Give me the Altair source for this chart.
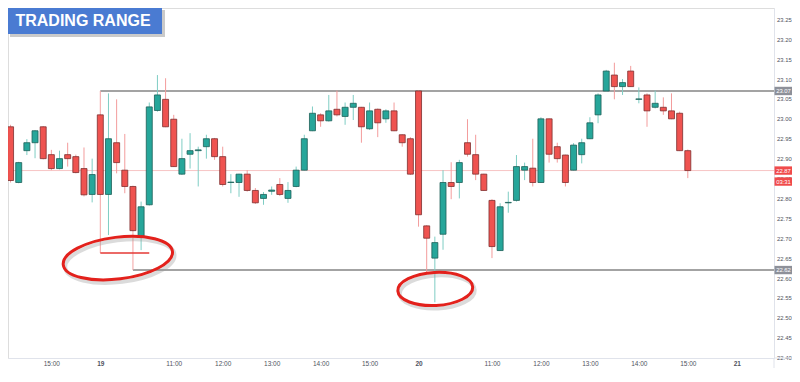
import altair as alt
import pandas as pd

# ---- candle data (10-minute bars; index 0 = day 19 09:30) ----
idx = list(range(-11, 73))
opens = [22.980, 22.840, 22.920, 22.940, 22.980, 22.910, 22.875, 22.910, 22.905, 22.875, 22.810,
         23.010, 22.810, 22.940, 22.871, 22.830, 22.706, 22.784, 23.021, 23.049, 22.999, 22.861,
         22.911, 22.920, 22.930, 22.950, 22.905, 22.840, 22.840, 22.861, 22.820, 22.800, 22.818,
         22.835, 22.800, 22.830, 22.871, 22.970, 23.010, 22.995, 23.024, 23.006, 23.029, 23.029,
         22.975, 23.024, 23.000, 23.020, 22.960, 22.950,
         23.070, 22.731, 22.650, 22.710, 22.840, 22.840, 22.940, 22.910, 22.861, 22.795, 22.669,
         22.789, 22.795, 22.871, 22.876, 22.840, 23.000, 22.930, 22.909, 22.871, 22.910, 22.950,
         23.010, 23.070, 23.110, 23.081, 23.120, 23.049, 23.060, 23.029, 23.029, 23.020, 23.014,
         22.920]
highs = [22.985, 22.892, 22.949, 22.972, 22.982, 22.922, 22.920, 22.940, 22.910, 22.928, 22.900,
         23.012, 23.064, 23.049, 22.962, 22.832, 22.792, 23.041, 23.110, 23.102, 23.010, 22.950,
         22.964, 22.930, 22.960, 22.952, 22.930, 22.861, 22.862, 22.871, 22.826, 22.816, 22.830,
         22.851, 22.841, 22.880, 22.960, 23.031, 23.014, 23.060, 23.071, 23.041, 23.060, 23.030,
         23.041, 23.026, 23.024, 23.041, 22.961, 22.954,
         23.072, 22.733, 22.704, 22.871, 22.891, 22.897, 22.999, 22.960, 22.862, 22.798, 22.788,
         22.817, 22.909, 22.890, 22.950, 23.004, 23.001, 22.940, 22.910, 22.939, 22.950, 23.004,
         23.064, 23.123, 23.141, 23.100, 23.133, 23.079, 23.064, 23.071, 23.054, 23.064, 23.018,
         22.923]
lows = [22.840, 22.838, 22.909, 22.901, 22.898, 22.871, 22.873, 22.880, 22.863, 22.805, 22.790,
        22.808, 22.708, 22.863, 22.813, 22.715, 22.670, 22.782, 23.018, 22.979, 22.879, 22.859,
        22.875, 22.830, 22.900, 22.897, 22.830, 22.813, 22.804, 22.817, 22.786, 22.784, 22.809,
        22.806, 22.789, 22.828, 22.870, 22.969, 22.980, 22.993, 23.006, 22.985, 22.997, 22.940,
        22.972, 22.954, 22.990, 22.969, 22.930, 22.859,
        22.729, 22.610, 22.539, 22.671, 22.798, 22.800, 22.905, 22.846, 22.819, 22.650, 22.668,
        22.764, 22.792, 22.846, 22.830, 22.839, 22.890, 22.890, 22.830, 22.870, 22.888, 22.949,
        22.989, 23.068, 23.049, 23.060, 23.080, 23.039, 22.980, 23.026, 23.010, 22.999, 22.919,
        22.851]
closes = [22.845, 22.890, 22.940, 22.970, 22.900, 22.875, 22.900, 22.900, 22.865, 22.809, 22.860,
          22.810, 22.950, 22.890, 22.830, 22.719, 22.779, 23.030, 23.060, 22.980, 22.880, 22.900,
          22.920, 22.922, 22.950, 22.905, 22.835, 22.841, 22.861, 22.820, 22.789, 22.810, 22.821,
          22.810, 22.820, 22.871, 22.950, 23.014, 22.995, 23.020, 23.010, 23.029, 23.039, 22.980,
          23.020, 22.990, 23.020, 22.970, 22.940, 22.861,
          22.759, 22.700, 22.689, 22.840, 22.830, 22.890, 22.911, 22.861, 22.820, 22.679, 22.779,
          22.790, 22.880, 22.880, 22.840, 23.000, 22.911, 22.900, 22.840, 22.934, 22.940, 22.990,
          23.060, 23.120, 23.081, 23.091, 23.081, 23.050, 23.020, 23.039, 23.020, 23.000, 22.920,
          22.870]

# axis ticks
tick_idx = [-6, 0, 9, 15, 21, 27, 33, 39, 48, 54, 60, 66, 72, 78]
tick_lbl = ["15:00", "19", "11:00", "12:00", "13:00", "14:00", "15:00",
            "20", "11:00", "12:00", "13:00", "14:00", "15:00", "21"]
day_idx = [0, 39, 78]
price_ticks = [22.40, 22.45, 22.50, 22.55, 22.60, 22.65, 22.70, 22.75, 22.80, 22.85,
               22.90, 22.95, 23.00, 23.05, 23.10, 23.15, 23.20, 23.25]

# annotation levels
resistance = [23.07]
support = [22.62]
last_price = [22.87]
last_label = ["22.87"]
countdown = ["03:31"]
marker_low = [22.663]
title_text = ["TRADING RANGE"]
ellipse_a = ([2.15], [22.650])
ellipse_b = ([41.05], [22.5725])

W, H = 766, 350
PR, PB = 18, 10
GREEN, RED = "#26a69a", "#ef5350"

df = pd.DataFrame(dict(i=idx, o=opens, h=highs, l=lows, c=closes))
df["dir"] = ["up" if c >= o else "down" for o, c in zip(df.o, df.c)]

label_expr = "''"
for v, l in reversed(list(zip(tick_idx, tick_lbl))):
    label_expr = f"datum.value == {v} ? '{l}' : ({label_expr})"
bold_test = " || ".join(f"datum.value == {d}" for d in day_idx)

xscale = alt.Scale(domain=[-10.7, 81.95], nice=False, zero=False)
yscale = alt.Scale(domain=[22.399, 23.2785], nice=False, zero=False)
xaxis = alt.Axis(values=tick_idx, labelExpr=label_expr, title=None, grid=False, ticks=False,
                 labelFontSize=6.5, labelColor="#50535e", domainColor="#e0e3eb",
                 labelPadding=2, labelFlush=False, labelOverlap=False,
                 labelFontWeight=alt.condition(bold_test, alt.value("bold"), alt.value("normal")))
yaxis = alt.Axis(orient="right", values=price_ticks, format=".2f", title=None, grid=False,
                 ticks=False, labelFontSize=5.9, labelColor="#50535e", domainColor="#e0e3eb",
                 labelPadding=2.5, labelFlush=False, labelOverlap=False)


def X(f):
    return alt.X(f"{f}:Q", scale=xscale, axis=xaxis)


def Y(f):
    return alt.Y(f"{f}:Q", scale=yscale, axis=yaxis)


dir_dom = ["up", "down"]
base = alt.Chart(df)
wicks = base.mark_rule(strokeWidth=1).encode(
    x=X("i"), y=Y("l"), y2="h",
    color=alt.Color("dir:N", scale=alt.Scale(domain=dir_dom, range=["#7fcdc4", "#f39c9c"]), legend=None))
bodies = base.mark_bar(size=6, strokeWidth=0.8).encode(
    x=X("i"), y=Y("o"), y2="c",
    fill=alt.Fill("dir:N", scale=alt.Scale(domain=dir_dom, range=[GREEN, RED]), legend=None),
    stroke=alt.Stroke("dir:N", scale=alt.Scale(domain=dir_dom, range=["#1d5f58", "#7d2f2f"]), legend=None))

# current price line
lp = pd.DataFrame({"p": last_price, "label": last_label, "cd": countdown})
last_line = alt.Chart(lp).mark_rule(color="#f7c4c4", strokeWidth=1).encode(
    y=Y("p"), x=alt.value(0), x2=alt.value(W))

# resistance / support lines
lv = pd.DataFrame({"p": resistance + support, "i0": [0, 4]})
level_lines = alt.Chart(lv).mark_rule(color="#a3a3a3", strokeWidth=2).encode(
    x=X("i0"), x2=alt.value(W), y=Y("p"))

# thin pink vertical markers and red low marker
pv = pd.DataFrame({"i": [0, 4], "top": [resistance[0], 22.715], "bot": [marker_low[0], support[0]]})
pink_v = alt.Chart(pv).mark_rule(color="#f3a3a3", strokeWidth=1).encode(
    x=X("i"), y=Y("top"), y2="bot")
rm = pd.DataFrame({"i0": [0], "i1": [6], "p": marker_low})
red_h = alt.Chart(rm).mark_rule(color="#e53935", strokeWidth=1.5).encode(
    x=X("i0"), x2="i1", y=Y("p"))

# ellipses
E1 = "M -1 0 A 1 0.38 0 1 0 1 0 A 1 0.38 0 1 0 -1 0 Z"
E2 = "M -1 0 A 1 0.44 0 1 0 1 0 A 1 0.44 0 1 0 -1 0 Z"
ea = pd.DataFrame({"i": ellipse_a[0], "p": ellipse_a[1]})
eb = pd.DataFrame({"i": ellipse_b[0], "p": ellipse_b[1]})


def ellipse(d, shape, size, angle):
    sh = alt.Chart(d).mark_point(shape=shape, size=size, filled=False, color="#9a9a9a",
                                 strokeWidth=4, opacity=0.35, angle=angle, xOffset=2, yOffset=3
                                 ).encode(x=X("i"), y=Y("p"))
    ln = alt.Chart(d).mark_point(shape=shape, size=size, filled=False, color="#e3211c",
                                 strokeWidth=3, opacity=1, angle=angle).encode(x=X("i"), y=Y("p"))
    return sh + ln


ell = ellipse(ea, E1, 12100, 353) + ellipse(eb, E2, 5625, 357)

# price tags on the axis
TX0, TX1, TXC = W + 0.5, W + PR, W + 9.5
tags = pd.DataFrame({"p": resistance + support, "label": [f"{resistance[0]:.2f}", f"{support[0]:.2f}"]})
tag_rect = alt.Chart(tags).mark_rect(color="#8d9099").transform_calculate(
    top="datum.p + 0.0105", bot="datum.p - 0.0105").encode(
    x=alt.value(TX0), x2=alt.value(TX1), y=Y("top"), y2="bot")
tag_text = alt.Chart(tags).mark_text(fontSize=5.9, color="white", font="Liberation Sans").encode(
    x=alt.value(TXC), y=Y("p"), text="label:N")
lp_rect = alt.Chart(lp).mark_rect(color="#f04b4b").transform_calculate(
    top="datum.p + 0.0105", bot="datum.p - 0.0105").encode(
    x=alt.value(TX0), x2=alt.value(TX1), y=Y("top"), y2="bot")
lp_text = alt.Chart(lp).mark_text(fontSize=5.9, color="white", font="Liberation Sans").encode(
    x=alt.value(TXC), y=Y("p"), text="label:N")
cd_rect = alt.Chart(lp).mark_rect(color="#f04b4b", yOffset=11, y2Offset=11).transform_calculate(
    top="datum.p + 0.0105", bot="datum.p - 0.0105").encode(
    x=alt.value(TX0), x2=alt.value(TX1), y=Y("top"), y2="bot")
cd_text = alt.Chart(lp).mark_text(fontSize=5.9, color="white", dy=11, font="Liberation Sans").encode(
    x=alt.value(TXC), y=Y("p"), text="cd:N")

# extend axis lines into the axis gutter
gut = pd.DataFrame({"k": [0]})
gut_v = alt.Chart(gut).mark_rule(color="#e0e3eb").encode(x=alt.value(W), y=alt.value(H), y2=alt.value(H + PB))
gut_h = alt.Chart(gut).mark_rule(color="#e0e3eb").encode(x=alt.value(W), x2=alt.value(W + PR), y=alt.value(H))

# title box
tt = pd.DataFrame({"t": title_text})
t_shadow = alt.Chart(tt).mark_rect(color="#8a8a8a", opacity=0.45).encode(
    x=alt.value(2), x2=alt.value(157), y=alt.value(2), y2=alt.value(29))
t_box = alt.Chart(tt).mark_rect(color="#4a7bd2").encode(
    x=alt.value(0), x2=alt.value(154), y=alt.value(0), y2=alt.value(26))
t_text = alt.Chart(tt).mark_text(fontSize=16, fontWeight="bold", color="white",
                                 font="Liberation Sans").encode(
    x=alt.value(75), y=alt.value(13), text="t:N")

chart = alt.layer(
    last_line, level_lines, pink_v, red_h, wicks, bodies, ell,
    tag_rect, tag_text, lp_rect, lp_text, cd_rect, cd_text, gut_v, gut_h,
    t_shadow, t_box, t_text
).properties(
    width=W, height=H, autosize="none",
    padding={"left": 0, "top": 0, "right": PR, "bottom": PB},
    background="white"
).configure_view(strokeWidth=0).configure(font="Liberation Sans")

chart.save("out.html", embed_options={"renderer": "svg", "actions": False})
